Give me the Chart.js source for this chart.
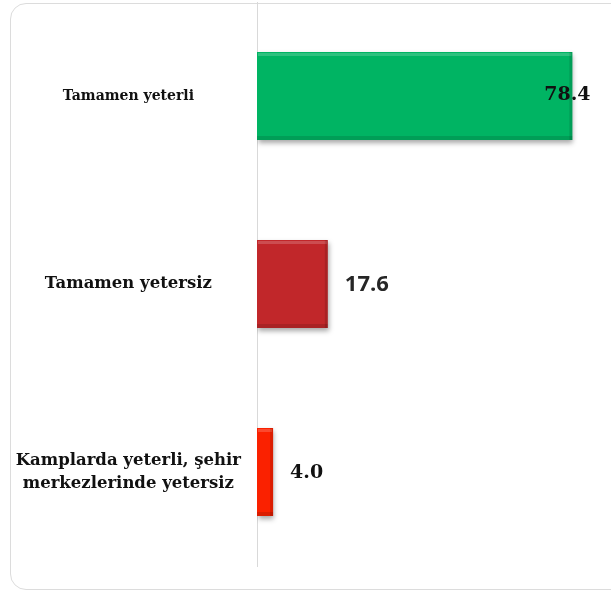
<!DOCTYPE html>
<html>
<head>
<meta charset="utf-8">
<script src="https://cdn.jsdelivr.net/npm/chart.js@4/dist/chart.umd.min.js"></script>
<style>
    html, body { margin: 0; padding: 0; background: #fff; overflow: hidden; }
    #wrap { position: relative; width: 611px; height: 592px; }
    #frame {
        position: absolute; left: 10px; top: 3px; width: 640px; height: 587px;
        border: 1px solid #dcdcdc; border-radius: 16px; box-sizing: border-box;
    }
    canvas { position: absolute; left: 0; top: 0; }
</style>
</head>
<body>
<div id="wrap">
    <div id="frame"></div>
    <canvas id="chart" width="611" height="592"></canvas>
</div>
<script>
// data
const categories = [
    'Tamamen yeterli',
    'Tamamen yetersiz',
    ['Kamplarda yeterli, şehir', 'merkezlerinde yetersiz']
];
const values = [78.4, 17.6, 4.0];

// styling
const barColors = ['#00b463', '#c1272a', '#fa2100'];
const labelFonts = [
    { family: 'DejaVu Serif', size: 19, weight: 'bold' },
    { family: 'Open Sans', size: 22, weight: 'bold' },
    { family: 'DejaVu Serif', size: 19, weight: 'bold' }
];
const labelColors = ['#111', '#262626', '#111'];
const tickSizes = [14, 16.5, 16.5];

// shadow + glossy bars
const barStyle = {
    id: 'barStyle',
    beforeDatasetDraw(chart) {
        const ctx = chart.ctx;
        ctx.save();
        ctx.shadowColor = 'rgba(0,0,0,0.35)';
        ctx.shadowBlur = 5;
        ctx.shadowOffsetX = 1;
        ctx.shadowOffsetY = 3;
    },
    afterDatasetDraw(chart) {
        const ctx = chart.ctx;
        ctx.restore();
        const meta = chart.getDatasetMeta(0);
        meta.data.forEach((bar) => {
            const p = bar.getProps(['x', 'y', 'base', 'height'], true);
            const top = p.y - p.height / 2;
            ctx.save();
            ctx.fillStyle = 'rgba(255,255,255,0.18)';
            ctx.fillRect(p.base + 1, top + 1, p.x - p.base - 2, 3);
            ctx.fillStyle = 'rgba(0,0,0,0.12)';
            ctx.fillRect(p.base, top + p.height - 4, p.x - p.base, 4);
            ctx.fillRect(p.x - 3, top, 3, p.height);
            ctx.restore();
        });
    }
};

// value labels next to / over bar ends
const valueLabels = {
    id: 'valueLabels',
    afterDatasetsDraw(chart) {
        const ctx = chart.ctx;
        const meta = chart.getDatasetMeta(0);
        meta.data.forEach((bar, i) => {
            const f = labelFonts[i];
            ctx.save();
            ctx.font = `${f.weight} ${f.size}px "${f.family}"`;
            ctx.fillStyle = labelColors[i];
            ctx.textBaseline = 'middle';
            if (i === 0) {
                ctx.textAlign = 'center';
                ctx.fillText(values[i].toFixed(1), bar.x - 5, bar.y - 1);
            } else {
                ctx.textAlign = 'left';
                ctx.fillText(values[i].toFixed(1), bar.x + 17, bar.y + 1);
            }
            ctx.restore();
        });
    }
};

const ctx = document.getElementById('chart').getContext('2d');
new Chart(ctx, {
    type: 'bar',
    data: {
        labels: categories,
        datasets: [{
            data: values,
            backgroundColor: barColors,
            borderWidth: 0,
            barPercentage: 0.468,
            categoryPercentage: 1
        }]
    },
    options: {
        indexAxis: 'y',
        responsive: false,
        animation: false,
        layout: { padding: { top: 2, bottom: 26, left: 0, right: 0 } },
        plugins: { legend: { display: false }, tooltip: { enabled: false } },
        scales: {
            x: { display: false, min: 0, max: 88 },
            y: {
                afterFit(scale) {
                    scale.width = 257;
                    scale.paddingTop = 0;
                    scale.paddingBottom = 0;
                },
                grid: { display: false },
                border: { display: true, color: '#d9d9d9', width: 1 },
                ticks: {
                    crossAlign: 'center',
                    padding: 8,
                    color: '#111',
                    font: (c) => ({ family: 'DejaVu Serif', weight: 'bold', size: tickSizes[c.index] || 16, lineHeight: 1.4 })
                }
            }
        }
    },
    plugins: [barStyle, valueLabels]
});
</script>
</body>
</html>
